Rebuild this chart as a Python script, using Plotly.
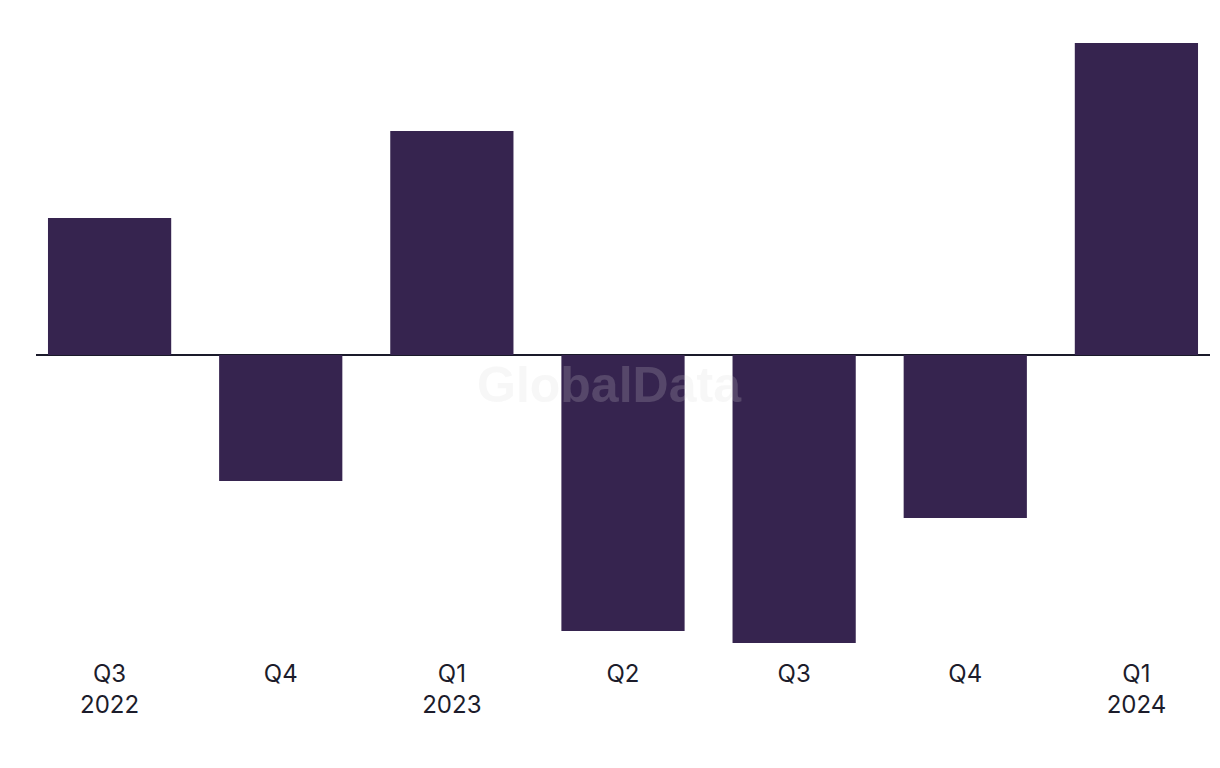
import plotly.graph_objects as go

categories = ["Q3<br>2022", "Q4", "Q1<br>2023", "Q2", "Q3", "Q4", "Q1<br>2024"]
values = [137, -126, 224, -276, -288, -163, 312]

fig = go.Figure()
fig.add_trace(go.Bar(
    x=list(range(len(categories))),
    y=values,
    width=0.72,
    marker=dict(color="#36244f", line=dict(width=0)),
    hoverinfo="skip",
))

fig.add_annotation(
    text="<b>GlobalData</b>", xref="x", yref="y",
    x=2.92, y=-30, showarrow=False,
    font=dict(family="Liberation Sans, Arial", size=50, color="rgba(215,215,215,0.2)"),
)

fig.update_layout(
    width=1220, height=768,
    margin=dict(l=28, r=18, t=13, b=125),
    plot_bgcolor="white", paper_bgcolor="white",
    showlegend=False,
    xaxis=dict(
        range=[-0.43, 6.43],
        tickmode="array",
        tickvals=list(range(len(categories))),
        ticktext=categories,
        showgrid=False, zeroline=False, showline=False,
        ticks="", ticklabelstandoff=6,
        tickfont=dict(family="Inter, Noto Sans, sans-serif", size=24, color="#1c1c2b"),
    ),
    yaxis=dict(
        range=[-296, 334],
        showgrid=False, showticklabels=False, ticks="",
        zeroline=True, zerolinecolor="#1a1a2a", zerolinewidth=2,
        showline=False,
    ),
)

fig.write_html("out.html")
